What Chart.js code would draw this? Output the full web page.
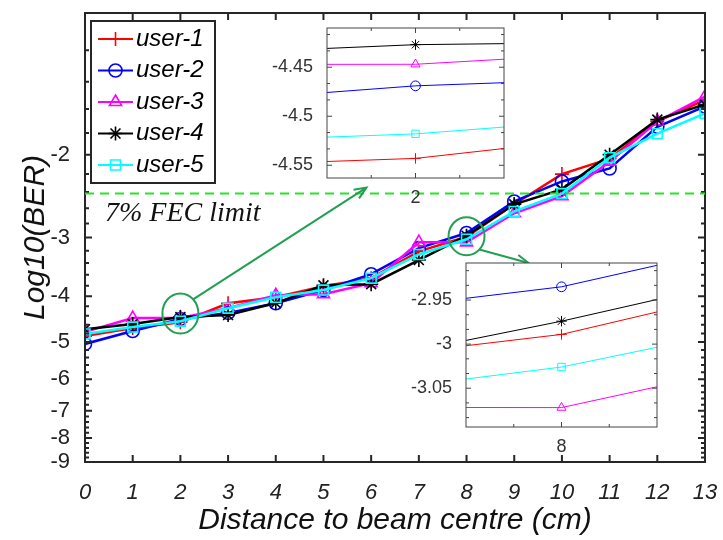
<!DOCTYPE html>
<html>
<head>
<meta charset="utf-8">
<script src="https://cdn.jsdelivr.net/npm/chart.js@4.4.1/dist/chart.umd.min.js"></script>
<style>
  html, body { margin: 0; padding: 0; background: #fff; }
  #wrap { position: relative; width: 723px; height: 540px; }
  #wrap canvas { position: absolute; }
</style>
</head>
<body>
<div id="wrap">
  <canvas id="main" width="723" height="540" style="left:0;top:0"></canvas>
  <canvas id="zoomA" width="260" height="195" style="left:255px;top:20px"></canvas>
  <canvas id="zoomB" width="268" height="205" style="left:400px;top:255px"></canvas>
</div>
<script>
// Data: Log10(BER) per user vs distance (cm)
const distance = [0, 1, 2, 3, 4, 5, 6, 7, 8, 9, 10, 11, 12, 13];
const user1 = [-4.86, -4.67, -4.543, -4.14, -4.02, -3.81, -3.66, -3.21, -2.989, -2.55, -2.20, -2.04, -1.70, -1.53];
const user2 = [-5.05, -4.74, -4.469, -4.34, -4.14, -3.88, -3.59, -3.16, -2.935, -2.515, -2.28, -2.14, -1.745, -1.58];
const user3 = [-4.76, -4.45, -4.447, -4.24, -3.98, -3.96, -3.75, -3.07, -3.072, -2.665, -2.45, -2.07, -1.70, -1.505];
const user4 = [-4.70, -4.58, -4.427, -4.385, -4.135, -3.79, -3.77, -3.35, -2.974, -2.55, -2.37, -2.00, -1.685, -1.565];
const user5 = [-4.81, -4.65, -4.518, -4.24, -4.02, -3.88, -3.66, -3.26, -3.026, -2.64, -2.42, -2.03, -1.805, -1.635];
const allUsers = [user1, user2, user3, user4, user5];
const seriesNames = ['user-1', 'user-2', 'user-3', 'user-4', 'user-5'];

const yTickLabels = [-2, -3, -4, -5, -6, -7, -8, -9];
const fecLimit = -2.42;
const fecText = '7% FEC limit';
const xTitle = 'Distance to beam centre (cm)';
const yTitle = 'Log10(BER)';

// zoom windows (x centre, y ticks of each inset)
const insetA = { x: 2, yTicks: [-4.55, -4.5, -4.45] };
const insetB = { x: 8, yTicks: [-3.05, -3, -2.95] };

// look
const colors = ['#ff0000', '#0000ff', '#ff00ff', '#000000', '#00ffff'];
const markers = ['cross', 'circle', 'triangle', 'star', 'rect'];
const radii = [7, 6.5, 7, 7, 7];
const SANS = '"Liberation Sans", Arial, sans-serif';
const AXIS = '#262626';
const MARK = '#22a052';

Chart.defaults.font.family = SANS;
Chart.defaults.color = AXIS;

// no extra label padding round the plot box
const noPad = s => { s.paddingTop = 0; s.paddingBottom = 0; s.paddingLeft = 0; s.paddingRight = 0; };

// MATLAB style box with inward ticks
const axesBox = {
  id: 'axesBox',
  beforeDatasetsDraw(chart, args, o) {
    const { ctx, chartArea: a } = chart;
    ctx.save();
    ctx.fillStyle = '#fff';
    ctx.fillRect(a.left, a.top, a.right - a.left, a.bottom - a.top);
    ctx.restore();
  },
  afterDatasetsDraw(chart, args, o) {
    const { ctx, chartArea: a, scales: { x, y } } = chart;
    ctx.save();
    ctx.strokeStyle = o.color;
    ctx.lineWidth = o.lineWidth;
    ctx.beginPath();
    const tx = (v, len) => {
      const p = x.getPixelForValue(v);
      ctx.moveTo(p, a.bottom); ctx.lineTo(p, a.bottom - len);
      ctx.moveTo(p, a.top); ctx.lineTo(p, a.top + len);
    };
    const ty = (v, len) => {
      const p = y.getPixelForValue(v);
      ctx.moveTo(a.left, p); ctx.lineTo(a.left + len, p);
      ctx.moveTo(a.right, p); ctx.lineTo(a.right - len, p);
    };
    o.xMajor.forEach(v => tx(v, o.major));
    o.xMinor.forEach(v => tx(v, o.minor));
    o.yMajor.forEach(v => ty(v, o.major));
    o.yMinor.forEach(v => ty(v, o.minor));
    ctx.stroke();
    ctx.strokeRect(a.left, a.top, a.right - a.left, a.bottom - a.top);
    ctx.restore();
  }
};

// FEC limit line, zoom ellipses and arrows
const notes = {
  id: 'notes',
  afterDatasetsDraw(chart, args, o) {
    const { ctx, chartArea: a, scales: { x, y } } = chart;
    ctx.save();
    const fy = y.getPixelForValue(-fecLimit);
    ctx.strokeStyle = '#22e622';
    ctx.lineWidth = 2;
    ctx.setLineDash([9, 6]);
    ctx.beginPath(); ctx.moveTo(a.left, fy); ctx.lineTo(a.right, fy); ctx.stroke();
    ctx.setLineDash([]);
    ctx.fillStyle = '#111';
    ctx.font = 'italic 28px "Liberation Serif", serif';
    ctx.textBaseline = 'middle';
    ctx.fillText(fecText, a.left + 20, fy + 20);

    ctx.strokeStyle = MARK;
    ctx.lineWidth = 2;
    o.marks.forEach(m => {
      const cx = x.getPixelForValue(m.x), cy = y.getPixelForValue(-m.y);
      ctx.beginPath(); ctx.ellipse(cx, cy, m.rx, m.ry, 0, 0, Math.PI * 2); ctx.stroke();
      const t = m.angle * Math.PI / 180;
      const sx = cx + m.rx * Math.cos(t), sy = cy + m.ry * Math.sin(t);
      const ex = x.getPixelForValue(m.toX), ey = y.getPixelForValue(-m.toY);
      ctx.beginPath(); ctx.moveTo(sx, sy); ctx.lineTo(ex, ey); ctx.stroke();
      const ang = Math.atan2(ey - sy, ex - sx);
      ctx.beginPath();
      ctx.moveTo(ex - 13 * Math.cos(ang - 0.4), ey - 13 * Math.sin(ang - 0.4));
      ctx.lineTo(ex, ey);
      ctx.lineTo(ex - 13 * Math.cos(ang + 0.4), ey - 13 * Math.sin(ang + 0.4));
      ctx.stroke();
    });
    ctx.restore();
  }
};

// legend box in the top-left corner
const legendBox = {
  id: 'legendBox',
  afterDraw(chart, args, o) {
    const { ctx, chartArea: a } = chart;
    const left = a.left + 6, top = a.top + 8;
    ctx.save();
    ctx.fillStyle = '#fff';
    ctx.fillRect(left, top, 124, 162);
    ctx.strokeStyle = AXIS;
    ctx.lineWidth = 2;
    ctx.strokeRect(left, top, 124, 162);
    chart.data.datasets.forEach((ds, i) => {
      const cy = top + 18 + i * 31.5;
      ctx.strokeStyle = ds.borderColor;
      ctx.lineWidth = 2;
      ctx.beginPath(); ctx.moveTo(left + 7, cy); ctx.lineTo(left + 42, cy); ctx.stroke();
      ctx.fillStyle = 'rgba(0,0,0,0)';
      ctx.lineWidth = ds.pointBorderWidth;
      Chart.helpers.drawPoint(ctx, { pointStyle: ds.pointStyle, radius: ds.pointRadius, rotation: 0, borderWidth: ds.pointBorderWidth }, left + 24.5, cy);
      ctx.fillStyle = '#000';
      ctx.font = 'italic 24px ' + SANS;
      ctx.textBaseline = 'middle';
      ctx.fillText(ds.label, left + 45, cy);
    });
    ctx.restore();
  }
};

function makeSets(toY, lineW, ptW, scale) {
  return allUsers.map((vals, i) => ({
    label: seriesNames[i],
    data: vals.map((v, j) => ({ x: distance[j], y: toY(v) })),
    borderColor: colors[i],
    pointBorderColor: colors[i],
    pointBackgroundColor: 'rgba(0,0,0,0)',
    pointStyle: markers[i],
    pointRadius: radii[i] * scale,
    pointBorderWidth: ptW,
    borderWidth: lineW,
    tension: 0,
    order: allUsers.length - i
  }));
}

const minorLog = [];
for (let k = 6; k < 45; k++) if (k % 5) minorLog.push(k / 5);

new Chart(document.getElementById('main'), {
  type: 'line',
  data: { datasets: makeSets(v => -v, 2.5, 1.6, 1) },
  options: {
    responsive: false,
    animation: false,
    devicePixelRatio: 1,
    layout: { padding: { top: 13, right: 18, left: 0, bottom: 0 } },
    plugins: {
      legend: { display: false },
      tooltip: { enabled: false },
      axesBox: { color: AXIS, lineWidth: 2, major: 7, minor: 4,
        xMajor: distance, xMinor: [],
        yMajor: yTickLabels.map(v => -v), yMinor: minorLog },
      notes: { marks: [
        { x: insetA.x, y: -4.35, rx: 18, ry: 20, angle: -45, toX: 5.9, toY: -2.35 },
        { x: insetB.x, y: -2.98, rx: 18, ry: 19, angle: 45, toX: 9.3, toY: -3.40 }
      ] }
    },
    scales: {
      x: {
        type: 'linear', min: 0, max: 13,
        grid: { display: false }, border: { display: false },
        afterBuildTicks: s => { s.ticks = distance.map(v => ({ value: v })); },
        ticks: { padding: 10, autoSkip: false, maxRotation: 0, color: '#222',
          font: { size: 22, style: 'italic' } },
        title: { display: true, text: xTitle, color: '#111',
          font: { size: 30, style: 'italic', lineHeight: 1.2 }, padding: { top: 0, bottom: 1 } },
        afterFit: s => { s.height = 78; noPad(s); }
      },
      y: {
        type: 'logarithmic', min: 1, max: 9, reverse: true,
        grid: { display: false }, border: { display: false },
        afterBuildTicks: s => { s.ticks = yTickLabels.map(v => ({ value: -v })); },
        ticks: { padding: 7, autoSkip: false, color: '#222', callback: v => String(-v),
          font: { size: 22 } },
        title: { display: true, text: yTitle, color: '#111',
          font: { size: 30, style: 'italic', lineHeight: 1.2 }, padding: { top: 18, bottom: 0 } },
        afterFit: s => { s.width = 85; noPad(s); }
      }
    }
  },
  plugins: [axesBox, notes, legendBox]
});

function insetChart(id, cfg, halfW, yMin, yMax, yWidth, xHeight) {
  const step = 0.05 / 3;
  const yMinor = [];
  for (let v = cfg.yTicks[0] - 3 * step; v <= yMax; v += step) {
    if (v >= yMin && !cfg.yTicks.some(t => Math.abs(t - v) < 1e-6)) yMinor.push(v);
  }
  return new Chart(document.getElementById(id), {
    type: 'line',
    data: { datasets: makeSets(v => v, 1, 1, 0.75) },
    options: {
      responsive: false,
      animation: false,
      devicePixelRatio: 1,
      layout: { padding: { top: 8, right: 11, left: 0, bottom: 0 } },
      plugins: {
        legend: { display: false },
        tooltip: { enabled: false },
        axesBox: { color: '#444', lineWidth: 1, major: 5, minor: 3,
          xMajor: [cfg.x], xMinor: [cfg.x - halfW / 2, cfg.x + halfW / 2],
          yMajor: cfg.yTicks, yMinor: yMinor }
      },
      scales: {
        x: {
          type: 'linear', min: cfg.x - halfW, max: cfg.x + halfW,
          grid: { display: false }, border: { display: false },
          afterBuildTicks: s => { s.ticks = [{ value: cfg.x }]; },
          ticks: { padding: 1, color: '#333', font: { size: 18 } },
          afterFit: s => { s.height = xHeight; noPad(s); }
        },
        y: {
          type: 'linear', min: yMin, max: yMax,
          grid: { display: false }, border: { display: false },
          afterBuildTicks: s => { s.ticks = cfg.yTicks.map(v => ({ value: v })); },
          ticks: { padding: 6, color: '#333', font: { size: 18 },
            callback: v => String(+v.toFixed(2)) },
          afterFit: s => { s.width = yWidth; noPad(s); }
        }
      }
    },
    plugins: [axesBox]
  });
}

insetChart('zoomA', insetA, 0.025, -4.563, -4.41, 72, 37);
insetChart('zoomB', insetB, 0.058, -3.094, -2.908, 66, 33);
</script>
</body>
</html>
